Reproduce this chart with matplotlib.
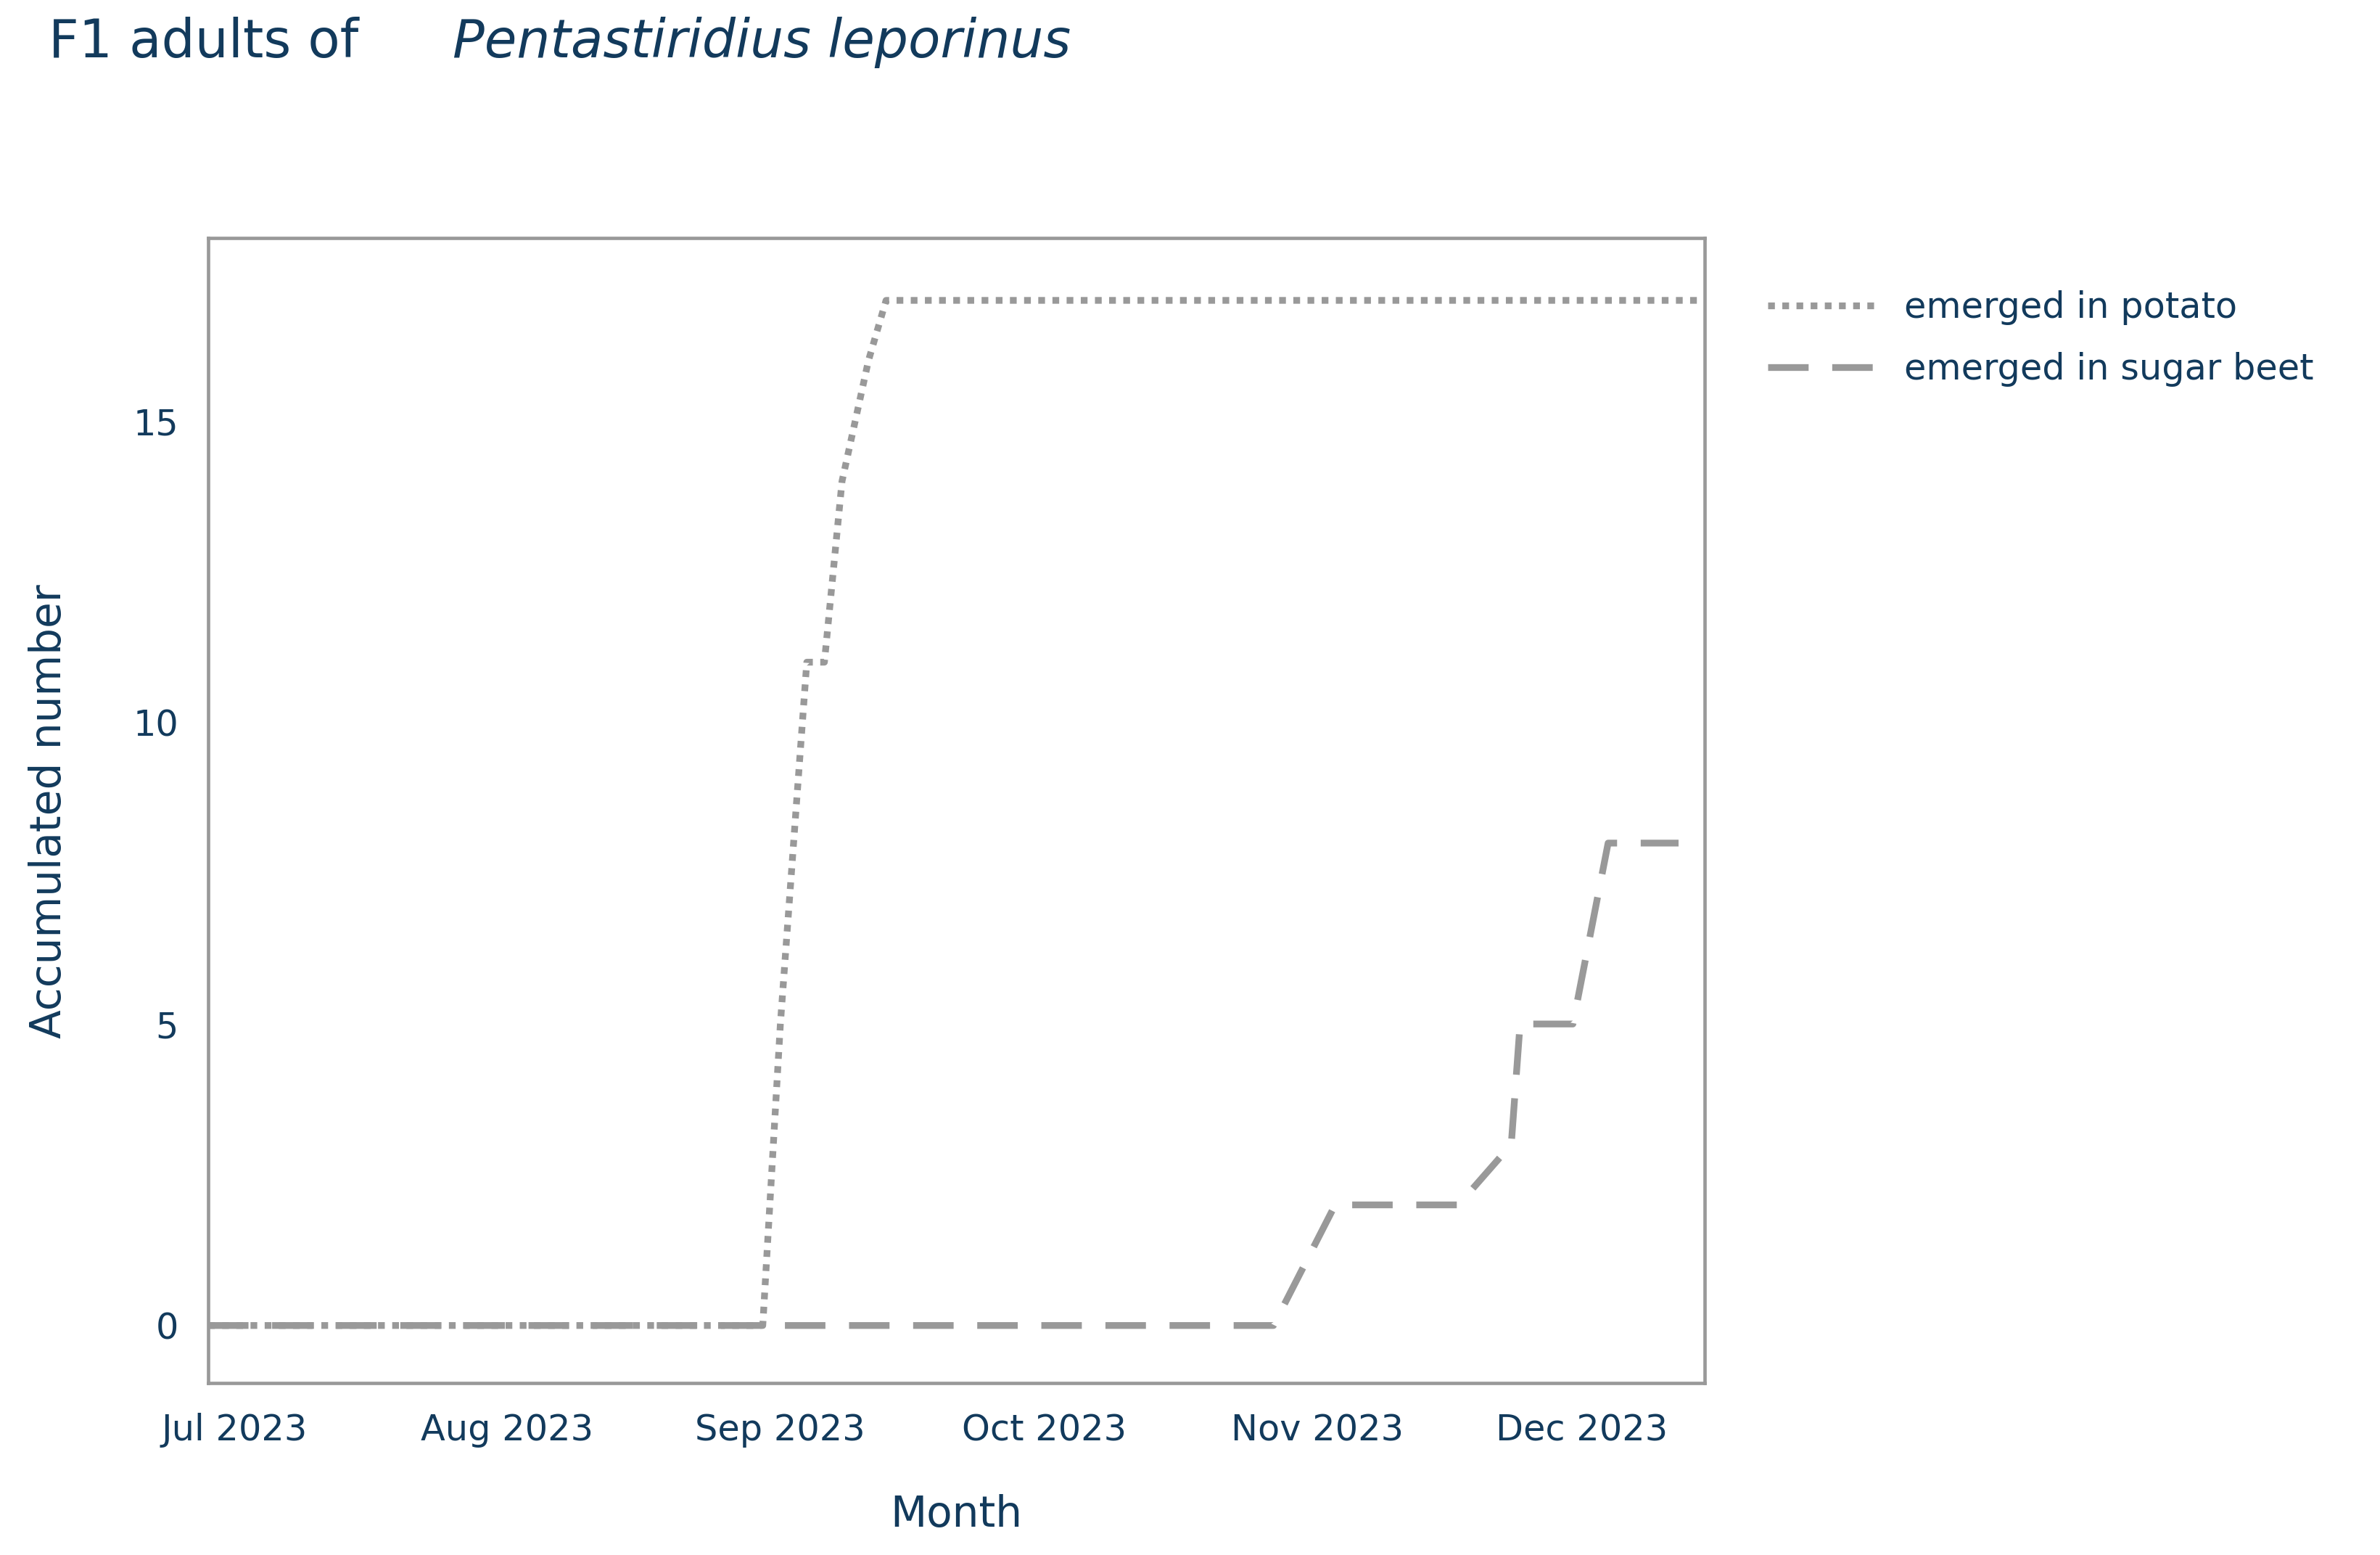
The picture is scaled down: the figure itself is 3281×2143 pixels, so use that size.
import matplotlib.pyplot as plt
import matplotlib.dates as mdates
import numpy as np
import pandas as pd

# data
potato_dates = ["2023-06-28", "2023-08-30", "2023-09-01", "2023-09-03", "2023-09-04",
                "2023-09-06", "2023-09-08", "2023-09-11", "2023-09-13", "2023-12-15"]
potato_counts = [0, 0, 5, 9, 11, 11, 14, 16, 17, 17]

beet_dates = ["2023-06-28", "2023-10-27", "2023-11-03", "2023-11-17", "2023-11-23",
              "2023-11-24", "2023-11-30", "2023-12-04", "2023-12-12"]
beet_counts = [0, 0, 2, 2, 3, 5, 5, 8, 8]

txt = "#123a5c"
grey = "#999999"

W, H = 1568, 1024
fig = plt.figure(figsize=(W / 100, H / 100), dpi=209.3)
ax = fig.add_axes([137 / W, 1 - 911 / H, (1123 - 137) / W, (911 - 157) / H])

ax.plot(pd.to_datetime(potato_dates), potato_counts, color=grey, lw=3.2,
        linestyle=(0, (1, 1.1)), label="emerged in potato")
ax.plot(pd.to_datetime(beet_dates), beet_counts, color=grey, lw=3.2,
        linestyle=(0, (6, 3.5)), label="emerged in sugar beet")

ax.set_xlim(pd.Timestamp("2023-06-28"), pd.Timestamp("2023-12-15"))
ax.set_ylim(-0.96, 18.03)
ax.set_yticks([0, 5, 10, 15])
ax.xaxis.set_major_locator(mdates.MonthLocator())
ax.xaxis.set_major_formatter(mdates.DateFormatter("%b %Y"))
ax.tick_params(length=0, labelsize=17, colors=txt, pad=14)
for s in ax.spines.values():
    s.set_color(grey)
    s.set_linewidth(1.6)

ax.set_xlabel("Month", fontsize=20, color=txt, labelpad=22)
ax.set_ylabel("Accumulated number", fontsize=20, color=txt, labelpad=30)

fig.text(32 / W, 1 - 28 / H, "F1 adults of", fontsize=25, color=txt, va="center")
fig.text(298 / W, 1 - 28 / H, "Pentastiridius leporinus", fontsize=25, color=txt,
         va="center", style="italic")

fig.legend(loc="upper left", bbox_to_anchor=(1143 / W, 1 - 170 / H), frameon=False,
           fontsize=17, labelcolor=txt, handlelength=3.0, labelspacing=0.75)

fig.savefig("out.png")
